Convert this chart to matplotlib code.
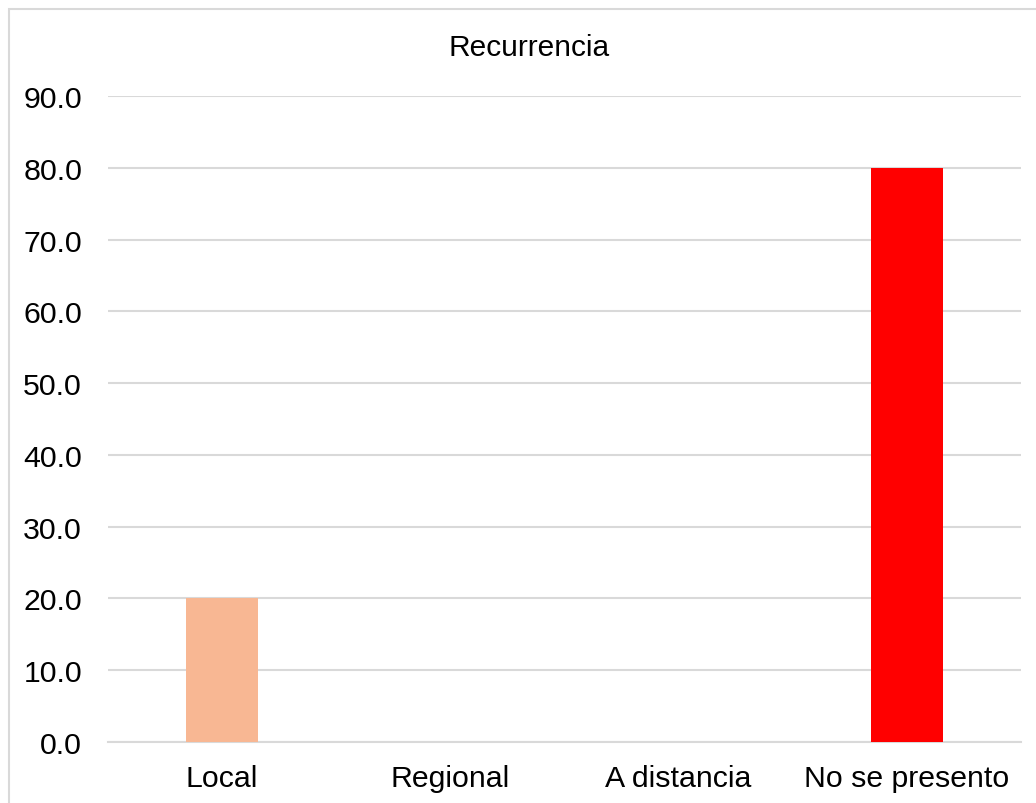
import matplotlib
matplotlib.use("Agg")
import matplotlib.pyplot as plt
from matplotlib.patches import Rectangle
from matplotlib.ticker import FormatStrFormatter

categories = ["Local", "Regional", "A distancia", "No se presento"]
values = [20.0, 0.0, 0.0, 80.0]
colors = ["#F8B793", "#F8B793", "#F8B793", "#FF0000"]
title = "Recurrencia"
yticks = [0, 10, 20, 30, 40, 50, 60, 70, 80, 90]

plt.rcParams['font.family'] = ['Liberation Sans', 'DejaVu Sans']

W, H = 1036, 804
fig = plt.figure(figsize=(W / 100, H / 100), dpi=100)
ax = fig.add_axes([108 / W, 1 - 743 / H, (1021 - 108) / W, (743 - 97) / H])

x = list(range(len(categories)))
ax.bar(x, values, width=0.316, color=colors, zorder=3)
ax.set_xlim(-0.5, len(categories) - 0.5)
ax.set_ylim(0, 90)
ax.set_yticks(yticks)
ax.yaxis.set_major_formatter(FormatStrFormatter('%.1f'))
ax.set_xticks(x)
ax.set_xticklabels(categories)
ax.tick_params(axis='both', length=0, labelsize=21.8, colors='black')
ax.tick_params(axis='y', pad=18.7)
ax.tick_params(axis='x', pad=16)
ax.grid(axis='y', color='#D9D9D9', linewidth=1.5, zorder=0)
for s in ['top', 'right', 'left']:
    ax.spines[s].set_visible(False)
ax.spines['bottom'].set_color('#D9D9D9')
ax.spines['bottom'].set_linewidth(1.5)

fig.text(529 / W, 1 - 48 / H, title, ha='center', va='center', fontsize=21.5)

fig.patches.append(Rectangle((9 / W, -0.05), 1.2, 1 - 10 / H + 0.05,
                             transform=fig.transFigure, fill=False,
                             edgecolor='#D9D9D9', linewidth=1.5))

fig.savefig("out.png", dpi=100)
